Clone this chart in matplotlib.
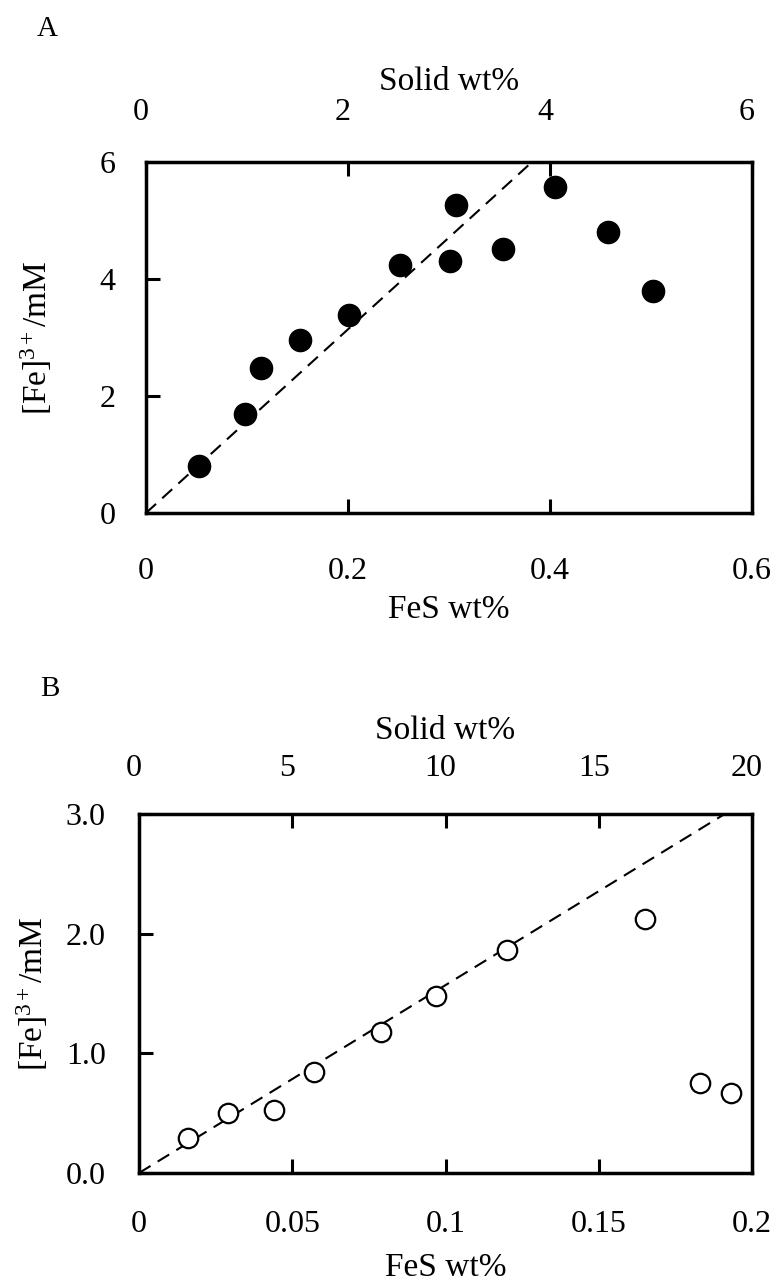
import matplotlib
matplotlib.use("Agg")
import matplotlib.pyplot as plt
import matplotlib.transforms as mtransforms
import numpy as np

plt.rcParams['font.family'] = ['Liberation Serif', 'DejaVu Serif']
plt.rcParams['mathtext.fontset'] = 'custom'
plt.rcParams['mathtext.rm'] = 'Liberation Serif'
plt.rcParams['mathtext.it'] = 'Liberation Serif:italic'

# Panel A data (filled circles)
fes_a = [0.052, 0.098, 0.114, 0.152, 0.201, 0.251, 0.301, 0.307, 0.353, 0.405, 0.457, 0.502]
fe_a = [0.81, 1.70, 2.48, 2.95, 3.38, 4.24, 4.30, 5.27, 4.51, 5.57, 4.81, 3.79]

# Panel B data (open circles)
fes_b = [0.016, 0.029, 0.044, 0.057, 0.079, 0.097, 0.120, 0.165, 0.183, 0.193]
fe_b = [0.29, 0.50, 0.53, 0.84, 1.18, 1.48, 1.86, 2.12, 0.75, 0.67]

# dashed trend line slope (mM per FeS wt%)
slope = 15.7

fig = plt.figure(figsize=(7.79, 12.8), dpi=100)
W, H = 779, 1280
tick_fs = 23
lab_fs = 24


def make_axes(left, top, right, bottom):
    return fig.add_axes([left / W, 1 - bottom / H, (right - left) / W, (bottom - top) / H])


def style(ax, xpad, ypad):
    for s in ax.spines.values():
        s.set_linewidth(2.5)
    ax.tick_params(direction='in', length=10, width=2.2, labelsize=tick_fs,
                   top=True, right=False)
    ax.tick_params(axis='x', pad=xpad)
    ax.tick_params(axis='y', pad=ypad)


def shift_labels(sec):
    # top labels sit a few pixels left of the tick positions
    off = mtransforms.ScaledTranslation(-5 / 100, 0, fig.dpi_scale_trans)
    for lab in sec.get_xticklabels():
        lab.set_transform(lab.get_transform() + off)


# ---- Panel A ----
axA = make_axes(146, 162, 752, 513)
xs = np.linspace(0, 0.6, 50)
axA.plot(xs, slope * xs, 'k--', lw=1.5, dashes=(6.5, 4))
axA.plot(fes_a, fe_a, 'o', color='black', ms=16, zorder=3)
axA.set_xlim(0, 0.6)
axA.set_ylim(0, 6)
axA.set_xticks([0, 0.2, 0.4, 0.6])
axA.set_xticklabels(['0', '0.2', '0.4', '0.6'])
axA.set_yticks([0, 2, 4, 6])
style(axA, 32, 22)
axA.set_xlabel('FeS wt%', fontsize=lab_fs, labelpad=6)
axA.set_ylabel(r'[Fe]$^{\mathrm{3+}}$/mM', fontsize=lab_fs)
axA.yaxis.set_label_coords(-0.152, 0.5)
secA = axA.secondary_xaxis('top', functions=(lambda x: x * 10, lambda s: s / 10))
secA.set_xticks([0, 2, 4, 6])
secA.tick_params(length=0, labelsize=tick_fs, pad=25)
secA.spines['top'].set_visible(False)
secA.set_xlabel('Solid wt%', fontsize=lab_fs, labelpad=6)
shift_labels(secA)
fig.text(47 / W, 1 - 29 / H, 'A', fontsize=21, ha='center', va='center')

# ---- Panel B ----
axB = make_axes(139, 814, 752, 1173)
xs = np.linspace(0, 0.2, 50)
axB.plot(xs, slope * xs, 'k--', lw=1.5, dashes=(6.5, 4))
axB.plot(fes_b, fe_b, 'o', mfc='white', mec='black', mew=1.6, ms=14, zorder=3)
axB.set_xlim(0, 0.2)
axB.set_ylim(0, 3)
axB.set_xticks([0, 0.05, 0.1, 0.15, 0.2])
axB.set_xticklabels(['0', '0.05', '0.1', '0.15', '0.2'])
axB.set_yticks([0, 1, 2, 3])
axB.set_yticklabels(['0.0', '1.0', '2.0', '3.0'])
style(axB, 27, 24)
axB.set_xlabel('FeS wt%', fontsize=lab_fs, labelpad=9)
axB.set_ylabel(r'[Fe]$^{\mathrm{3+}}$/mM', fontsize=lab_fs)
axB.yaxis.set_label_coords(-0.145, 0.5)
secB = axB.secondary_xaxis('top', functions=(lambda x: x * 100, lambda s: s / 100))
secB.set_xticks([0, 5, 10, 15, 20])
secB.tick_params(length=0, labelsize=tick_fs, pad=22)
secB.spines['top'].set_visible(False)
secB.set_xlabel('Solid wt%', fontsize=lab_fs, labelpad=11)
shift_labels(secB)
fig.text(50 / W, 1 - 689 / H, 'B', fontsize=21, ha='center', va='center')

fig.savefig('out.png', dpi=100)
